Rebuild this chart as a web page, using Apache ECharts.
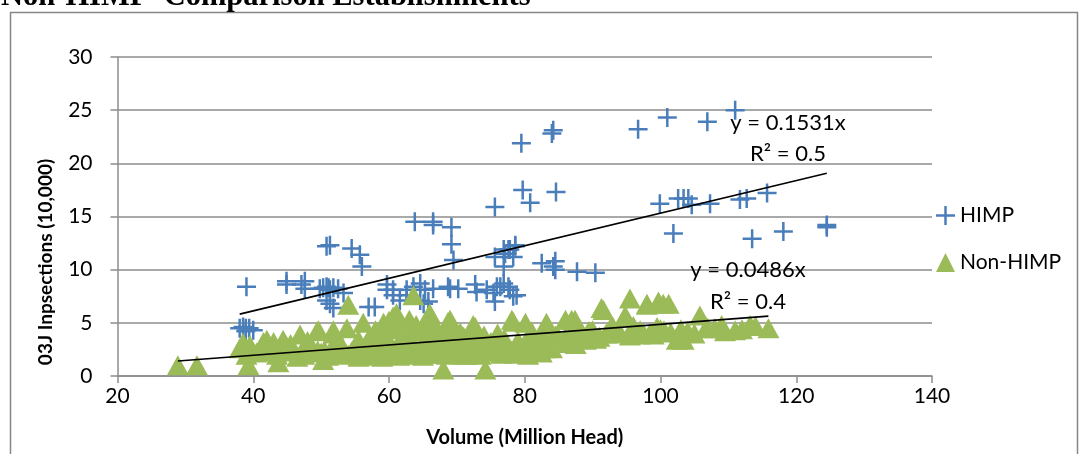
<!DOCTYPE html>
<html>
<head>
<meta charset="utf-8">
<script src="https://cdn.jsdelivr.net/npm/echarts@6/dist/echarts.min.js"></script>
<style>
html,body{margin:0;padding:0;background:#fff;}
#c{width:1081px;height:454px;}
</style>
</head>
<body>
<div id="c"></div>
<script>
// ---- data ----
const chartTitle = "Non-HIMP  Comparison Establishments";
const xAxisTitle = "Volume (Million Head)";
const yAxisTitle = "03J Inpsections (10,000)";
const seriesNames = ["HIMP", "Non-HIMP"];
const xTicks = [20, 40, 60, 80, 100, 120, 140];
const yTicks = [0, 5, 10, 15, 20, 25, 30];

const himpX = [111.0,106.9,101.0,96.7,84.2,84.0,79.5,
  79.7,80.8,84.6,75.6,99.9,102.6,103.4,104.1,104.6,107.3,111.7,112.7,115.7,101.9,113.5,118.1,124.5,124.5,
  63.8,66.5,66.5,69.2,69.2,69.5,77.1,77.6,78.6,76.9,82.5,84.5,84.5,87.7,90.4,
  50.8,51.3,54.5,55.7,56.0,
  39.0,44.9,44.9,47.1,47.6,47.6,49.8,50.3,50.8,51.1,51.3,51.8,52.5,53.3,50.8,51.3,51.8,
  57.0,57.9,59.7,59.7,60.6,60.6,61.6,62.6,62.6,63.6,64.6,64.6,65.3,65.1,65.8,66.5,68.7,69.0,70.2,72.7,72.9,74.4,75.4,75.6,75.9,76.4,76.9,77.6,77.8,78.3,78.8,
  75.6,76.9,77.8,78.3,78.6,84.2,
  38.0,38.5,38.9,39.4,40.0,38.9];
const himpY = [25.0,23.9,24.3,23.2,23.1,22.8,21.9,
  17.5,16.3,17.3,15.9,16.2,16.7,16.7,16.7,16.1,16.2,16.6,16.7,17.2,13.4,12.9,13.6,14.2,14.0,
  14.5,14.5,14.2,14.0,12.4,10.9,11.5,11.9,12.2,10.3,10.6,10.8,10.0,9.8,9.7,
  12.2,12.3,12.0,11.4,10.3,
  8.4,8.9,8.6,8.6,8.9,8.2,8.2,8.3,8.4,8.3,8.1,8.3,8.2,7.8,7.1,6.8,6.4,
  6.5,6.5,8.6,8.1,8.1,7.6,7.1,8.1,7.6,8.4,8.7,7.1,8.1,6.8,7.0,8.2,8.4,8.2,8.2,8.6,7.9,8.1,7.8,7.0,8.4,8.4,8.7,8.4,8.1,7.5,7.6,
  11.2,11.9,11.9,11.2,12.3,10.3,
  4.5,4.6,4.5,4.5,4.3,4.2];

const nonX = [28.9,31.7,39.3,43.7,50.3,68.0,74.2,
  54.0,63.6,56.2,61.1,53.8,51.8,49.6,46.9,44.4,42.0,38.5,66.0,68.7,72.4,78.3,83.2,86.0,59.2,
  61.1,66.0,69.0,72.7,78.1,80.1,83.2,86.0,87.4,91.3,95.5,98.0,99.7,101.2,89.4,94.8,97.0,99.0,102.4,84.2,70.2,
  98.0,100.4,91.6,94.8,105.8,109.0,113.2,115.9,86.9,89.6,97.5,103.4,106.8,86.9,92.6,
  38.0,39.5,41.5,43.0,44.4,49.4,51.8,60.6,
  40.5,42.5,45.5,46.5,48.0,50.0,51.0,52.5,54.5,55.5,56.5,58.0,59.0,60.0,61.0,62.0,63.0,64.0,65.0,66.0,67.0,68.0,69.0,70.5,71.5,73.0,74.0,75.0,76.0,77.0,78.0,79.0,80.0,81.0,82.0,83.0,85.0,88.0,90.0,93.0,96.0,100.0,104.0,108.0,111.0,
  57.0,62.0,65.0,70.0,74.0,76.0,81.0,57.5,58.5,64.0,67.0,71.0,
  39.0,41.0,43.5,45.0,47.0,48.5,49.5,51.5,53.0,54.0,55.0,56.0,57.0,58.5,59.5,60.5,61.5,62.5,63.5,64.5,65.5,66.5,67.5,68.5,69.5,70.0,71.0,72.0,73.5,74.5,75.5,76.5,77.5,78.5,79.5,80.5,81.5,82.5,84.0,86.0,87.5,89.0,
  58.0,59.5,61.0,62.5,64.0,65.5,67.0,68.5,70.5,72.5,60.0,63.0,66.5,69.5,
  88.5,90.5,92.0,94.0,95.5,97.0,99.5,101.5,103.0,105.0,107.0,109.5,112.0,114.0,
  45.5,48.0,52.0,55.5,57.5,61.5,63.0,65.0,67.5,69.0,71.5,73.5,75.5,77.0,79.0,81.0,82.5,84.5,87.0,89.5,91.0,93.5,96.0,98.5,100.5,
  44.0,47.5,50.5,53.5,56.5,59.0,62.0,66.0,68.0,71.0,73.0,76.0,78.5,80.5,83.0];
const nonY = [1.0,1.0,1.0,1.3,1.5,0.6,0.6,
  6.7,7.6,5.0,5.6,4.5,4.3,4.3,3.9,3.4,3.4,3.1,5.7,5.1,4.8,5.1,5.0,3.7,5.0,
  5.9,5.9,5.3,4.6,5.3,5.0,4.8,5.3,5.3,6.4,7.3,6.8,7.0,6.8,4.2,5.6,3.9,3.9,3.4,3.7,3.5,
  6.7,6.8,6.2,5.7,5.7,4.8,4.8,4.5,5.3,4.2,4.0,3.4,4.6,4.0,4.5,
  2.6,2.9,3.2,3.2,3.1,4.2,4.0,5.6,
  2.2,2.5,2.4,1.8,2.6,2.2,1.9,2.6,2.3,1.8,2.8,2.2,1.8,3.0,2.5,2.0,3.2,2.4,1.9,3.4,2.6,2.1,3.0,2.5,2.0,2.8,2.3,3.2,2.6,3.0,2.4,3.3,2.8,3.5,2.9,3.4,3.6,3.9,4.3,4.6,4.7,4.4,4.2,4.5,4.3,
  3.5,3.6,4.2,4.0,3.8,4.0,4.2,2.7,3.3,4.8,4.5,3.7,
  2.0,2.3,2.0,2.7,2.1,2.9,2.4,2.1,2.9,2.0,2.5,2.2,1.9,2.4,2.1,2.6,1.9,2.3,2.7,2.1,2.5,2.2,2.8,2.0,2.4,2.7,2.2,2.6,2.0,2.9,2.3,2.1,2.7,2.2,2.5,2.0,2.6,2.2,2.6,3.1,3.0,3.4,
  4.3,3.8,4.4,4.0,4.6,4.2,3.9,4.4,4.1,3.9,5.2,5.3,4.9,4.6,
  3.8,3.5,4.0,4.1,3.8,4.3,4.6,4.1,4.4,4.0,4.5,4.2,4.4,4.7,
  3.0,3.3,3.1,3.4,3.0,3.2,3.6,3.1,3.5,3.3,3.0,3.4,3.1,3.5,3.2,3.6,3.3,3.8,3.6,3.9,3.7,4.0,4.2,4.1,4.3,
  2.3,2.0,2.4,2.1,2.3,2.0,2.2,2.1,2.3,2.0,2.2,2.4,2.1,2.5,2.6];

// linear trendlines through origin (as labelled on the chart)
const himpSlope = 0.1531, himpR2 = "0.5";
const nonSlope = 0.0486, nonR2 = "0.4";

// ---- build ----
const zip = (xs, ys) => xs.map((x, i) => [x, ys[i]]);
const trend = (xs, k) => {
  const a = Math.min.apply(null, xs), b = Math.max.apply(null, xs);
  return [[a, k * a], [b, k * b]];
};

const FONT = "Lato";
const plusPath = 'path://M0,8.25h19v2.5H0z M8.25,0h2.5v19h-2.5z';
const blue = '#4A7EBB', green = '#9BBB59', grid = '#8C8C8C';

const chart = echarts.init(document.getElementById('c'), null, {renderer: 'canvas'});
chart.setOption({
  animation: false,
  backgroundColor: '#fff',
  textStyle: {fontFamily: FONT},
  grid: {left: 117.5, right: 149, top: 57, bottom: 78, containLabel: false},
  xAxis: {
    type: 'value', min: xTicks[0], max: xTicks[xTicks.length - 1], interval: 20,
    name: xAxisTitle, nameLocation: 'middle', nameGap: 52,
    nameTextStyle: {fontFamily: FONT, fontWeight: 'bold', fontSize: 20, color: '#000'},
    axisLine: {show: true, lineStyle: {color: grid, width: 1.5}},
    axisTick: {show: true, length: 7, lineStyle: {color: grid, width: 1.5}},
    axisLabel: {fontFamily: FONT, fontSize: 21, color: '#000', margin: 10},
    splitLine: {show: false}
  },
  yAxis: {
    type: 'value', min: yTicks[0], max: yTicks[yTicks.length - 1], interval: 5,
    axisLine: {show: true, lineStyle: {color: grid, width: 1.5}},
    axisTick: {show: true, length: 7, lineStyle: {color: grid, width: 1.5}},
    axisLabel: {fontFamily: FONT, fontSize: 21, color: '#000', margin: 25},
    splitLine: {show: true, lineStyle: {color: grid, width: 1.5}}
  },
  legend: {
    orient: 'vertical', left: 931, top: 200, itemGap: 26,
    itemWidth: 19, itemHeight: 19,
    data: seriesNames,
    textStyle: {fontFamily: FONT, fontSize: 21, color: '#000', lineHeight: 21}
  },
  series: [
    {name: seriesNames[0], type: 'scatter', data: zip(himpX, himpY),
     symbol: plusPath, symbolSize: [19, 19], itemStyle: {color: blue, opacity: 1}, z: 2},
    {name: seriesNames[1], type: 'scatter', data: zip(nonX, nonY),
     symbol: 'triangle', symbolSize: [22, 20], itemStyle: {color: green, opacity: 1}, z: 3},
    {name: 'HIMP trend', type: 'line', data: trend(himpX, himpSlope), showSymbol: false, symbol: 'none',
     lineStyle: {color: '#000', width: 1.6}, z: 4, silent: true},
    {name: 'Non-HIMP trend', type: 'line', data: trend(nonX, nonSlope), showSymbol: false, symbol: 'none',
     lineStyle: {color: '#000', width: 1.6}, z: 4, silent: true}
  ],
  graphic: [
    {type: 'rect', shape: {x: 10.5, y: 12.5, width: 1067, height: 470},
     style: {fill: 'none', stroke: '#868686', lineWidth: 1.5}, z: 0, silent: true},
    {type: 'text', left: 1, top: -18, z: 10,
     style: {text: chartTitle, font: 'bold 30.5px "Liberation Serif"', fill: '#000'}},
    {type: 'text', x: 46, y: 262, rotation: Math.PI / 2, z: 10,
     style: {text: yAxisTitle, font: 'bold 19px Lato', fill: '#000', align: 'center', verticalAlign: 'middle'}},
    {type: 'text', x: 788, y: 123, z: 10,
     style: {text: 'y = ' + himpSlope + 'x', font: '22px Lato', fill: '#000', align: 'center', verticalAlign: 'middle'}},
    {type: 'text', x: 788, y: 154, z: 10,
     style: {text: 'R² = ' + himpR2, font: '22px Lato', fill: '#000', align: 'center', verticalAlign: 'middle'}},
    {type: 'text', x: 748, y: 270, z: 10,
     style: {text: 'y = ' + nonSlope + 'x', font: '22px Lato', fill: '#000', align: 'center', verticalAlign: 'middle'}},
    {type: 'text', x: 748, y: 302, z: 10,
     style: {text: 'R² = ' + nonR2, font: '22px Lato', fill: '#000', align: 'center', verticalAlign: 'middle'}}
  ]
});
</script>
</body>
</html>
